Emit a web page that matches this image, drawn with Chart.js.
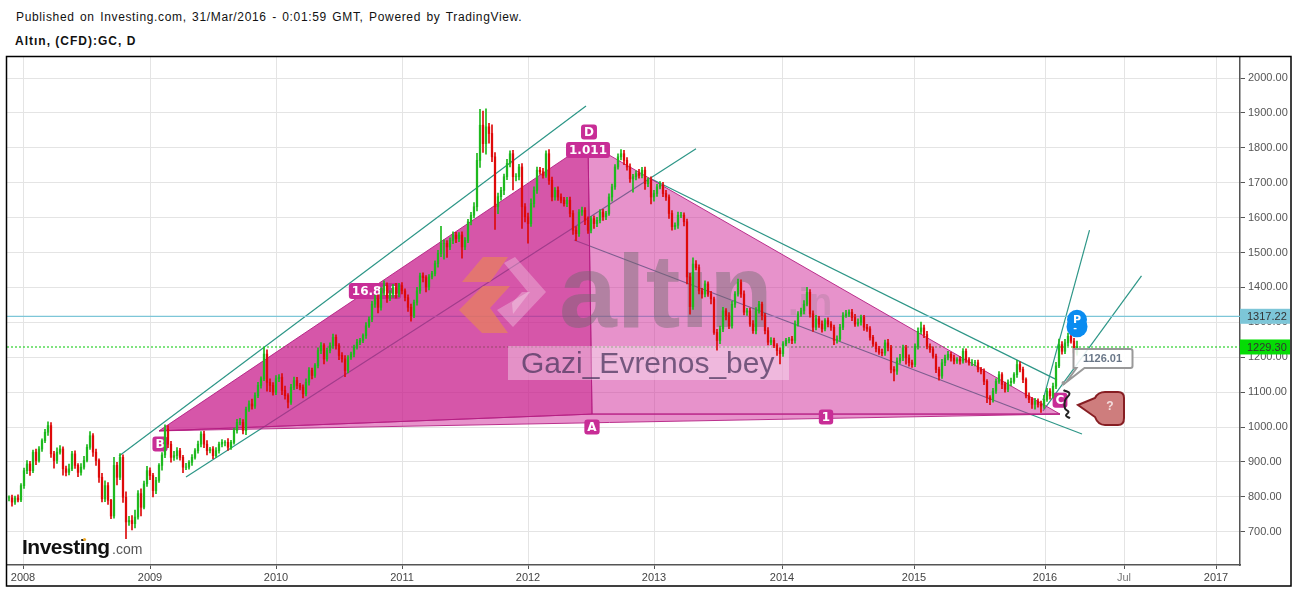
<!DOCTYPE html>
<html>
<head>
<meta charset="utf-8">
<title>Altın, (CFD):GC, D</title>
<script src="https://cdn.jsdelivr.net/npm/chart.js@4/dist/chart.umd.min.js"></script>
<style>
  html, body { margin: 0; padding: 0; background: #fff; width: 1297px; height: 589px; overflow: hidden; }
  canvas { position: absolute; left: 0; top: 0; }
  .head { position: absolute; left: 16px; font-family: "Liberation Sans", Arial, sans-serif; color: #111; white-space: nowrap; }
  #pub { top: 10px; font-size: 12px; letter-spacing: 0.65px; word-spacing: 1.5px; }
  #sym { top: 34px; left: 15px; font-size: 12px; font-weight: bold; letter-spacing: 1px; }
</style>
</head>
<body>
<div class="head" id="pub">Published on Investing.com, 31/Mar/2016 - 0:01:59 GMT, Powered by TradingView.</div>
<div class="head" id="sym">Altın, (CFD):GC, D</div>
<canvas id="chart" width="1297" height="589"></canvas>
<script>
// -------------------------------------------------------
// Data (x is in trading sessions, y in USD)
// -------------------------------------------------------
const sessionMax = 2466;
const barStep = 6;          // one candle every 6 sessions
const firstBar = 4;

const yTicks = [700, 800, 900, 1000, 1100, 1200, 1300, 1400, 1500, 1600, 1700, 1800, 1900, 2000];
const xTickSessions = [32, 286, 538, 790, 1042, 1294, 1550, 1814, 2076, 2234, 2418];
const xTickLabels = ['2008', '2009', '2010', '2011', '2012', '2013', '2014', '2015', '2016', 'Jul', '2017'];

const closes = [
  797,785,797,791,832,875,894,875,928,904,937,961,985,1004,923,904,928,937,880,870,880,923,890,870,885,904,942,975,928,904,856,794,832,790,745,890,856,913,799,728,732,723,742,809,770,837,875,
  861,818,847,890,920,994,951,913,918,932,913,885,885,899,913,932,951,980,951,932,937,918,932,951,956,956,942,956,990,1013,1013,990,1051,1066,1060,1090,
  1119,1138,1209,1128,1119,1100,1138,1143,1105,1090,1071,1114,1133,1119,1114,1095,1128,1162,1148,1176,1219,1233,1195,1219,1233,1257,1233,1205,1195,1162,1200,1209,1228,1243,1248,1262,1290,1309,1352,1367,1343,1390,1405,1371,1381,1400,1381,1405,1390,1371,1343,1319,1357,1390,1433,1428,1401,
  1430,1440,1468,1497,1526,1526,1516,1535,1550,1540,1550,1516,1535,1588,1607,1631,1764,1865,1812,1860,1841,1774,1631,1660,1678,1717,
  1755,1783,1717,1717,1745,1631,1602,1583,1640,1678,1736,1731,1721,1783,1707,1659,1678,1659,1650,1640,1650,1612,1564,1554,1616,1621,1592,1564,1597,1583,1592,1616,1602,1612,1659,1688,1745,1774,1783,1764,1745,1711,1717,1726,1721,1736,1697,1707,1659,1669,1688,1693,1669,1659,1612,1574,1578,1607,1607,1588,
  1430,1345,1467,1457,1390,1381,1410,1381,1367,1271,1248,1281,1333,1319,1290,1352,1381,1414,1381,1329,1333,1295,1276,1333,1352,1319,1276,1243,1248,1233,1219,1210,1238,1248,1252,1248,1295,1324,1333,1352,1386,1324,1286,1310,1295,1281,1305,1295,1286,1248,1252,1286,1319,1324,1329,1314,1295,1300,1314,1286,1281,1257,1238,1224,1214,
  1212,1241,1227,1165,1160,1189,1198,1227,1198,1184,1179,1231,1274,1284,1265,1231,1222,1203,1165,1146,1184,1198,1208,1198,1189,1193,1189,1217,1193,1184,1184,1184,1165,1160,1131,1084,1079,1103,1131,1150,1122,1108,1127,1131,1150,1179,1165,1136,1089,1079,1065,1074,1065,1060,1079,1103,1089,1117,1175,1236,1217,1241,1260,1246,1212,1231
];
const upperWick = [
  6,8,5,9,6,7,10,8,6,9,7,5,8,11,9,7,12,10,6,8,14,7,9,5,10,12,8,12,6,9,5,11,14,9,3,23,9,11,7,15,12,14,20,9,14,8,12,
  8,6,9,5,7,12,10,8,12,9,7,6,11,5,8,6,9,7,8,10,5,7,9,6,8,5,11,6,7,9,12,8,6,9,14,8,
  9,6,19,12,10,8,9,7,10,12,6,8,10,9,6,7,10,8,7,6,8,9,6,7,8,9,7,6,8,10,5,6,7,8,6,5,9,7,8,10,12,9,14,8,10,9,12,7,9,6,8,9,7,10,8,9,6,
  7,6,8,9,49,10,8,7,9,8,7,9,8,7,8,12,20,45,40,52,10,25,12,10,9,8,
  12,8,10,9,8,10,9,11,14,10,9,8,10,8,12,9,8,10,9,8,8,9,8,10,7,9,8,10,6,8,9,7,8,6,9,8,7,9,12,10,8,9,7,8,12,8,9,7,10,9,7,10,8,9,6,8,7,9,8,7,
  8,10,18,10,8,7,9,6,8,5,9,8,10,6,9,8,7,10,8,9,7,8,10,9,8,6,7,9,8,7,6,8,7,6,5,8,9,7,8,10,14,8,9,10,7,9,6,8,7,6,9,8,9,10,7,8,9,10,7,6,8,7,6,5,7,
  9,8,10,7,8,9,10,8,7,9,8,7,10,17,8,9,7,8,6,7,10,8,9,7,8,6,9,8,7,6,9,7,8,6,7,5,6,8,7,9,6,7,8,9,6,12,8,7,5,9,6,8,7,9,12,8,7,9,10,16,9,10,9,12,8,15
];
const lowerWick = [
  9,12,7,6,5,8,9,14,6,12,5,7,6,9,10,22,8,6,18,10,7,5,9,12,8,6,4,6,12,14,15,9,8,12,8,6,22,7,15,48,10,18,12,6,25,5,7,
  12,18,9,6,14,8,10,14,9,10,8,16,7,6,9,5,7,8,10,12,6,9,5,7,8,10,9,6,5,8,7,10,12,6,9,7,
  6,8,5,25,18,9,7,8,12,10,16,6,7,9,8,12,6,8,10,6,7,9,14,6,7,8,10,12,9,18,7,6,8,5,7,6,8,5,7,9,16,8,12,14,9,10,12,8,9,10,12,16,6,8,7,12,14,
  8,6,7,10,9,45,30,8,10,12,9,32,8,7,9,8,12,20,25,30,28,14,65,20,10,12,
  8,10,38,12,9,62,14,56,8,10,9,7,8,6,12,11,9,10,8,7,9,10,12,20,8,10,12,9,8,14,9,7,10,8,6,12,7,6,9,12,9,10,38,9,8,7,16,8,20,12,8,6,9,10,14,10,8,9,7,12,
  20,22,8,7,9,12,8,7,14,6,28,9,8,12,8,7,9,6,10,8,9,7,8,9,7,12,9,8,7,6,14,29,8,6,7,9,8,6,7,9,5,9,12,8,10,9,6,8,9,12,8,6,7,5,8,9,7,6,8,9,7,8,7,9,6,
  8,7,9,10,28,9,7,8,18,10,8,6,8,7,9,7,8,6,9,12,7,8,6,9,8,7,9,6,8,7,8,9,7,8,10,14,15,8,7,6,12,8,7,9,6,8,7,9,6,9,12,14,8,18,7,6,9,6,7,5,8,7,9,6,18,6
];

const bidLevel = 1229.30;
const markLevel = 1317.22;

// Trend lines drawn on the chart: [session, price] pairs
const channelUpper = [[224, 917], [1158, 1920]];
const channelLower = [[358, 857], [1378, 1797]];
const fallUpper = [[1286, 1713], [2100, 1135]];
const fallLower = [[1134, 1536], [2150, 980]];
const riseSteep = [[2072, 1077], [2165, 1564]];
const riseSlow = [[2072, 1046], [2269, 1433]];
const squiggle = [[2113, 1106], [2125, 1096], [2116, 1076], [2116, 1053], [2123, 1043], [2118, 1033], [2126, 1025]];

// Harmonic pattern corners
const ptX = [304, 989];
const ptA = [1162, 1814];
const ptB = [1170, 1037];
const ptC = [2106, 1037];

const tagTexts = ['B', 'D', '1.011', '16.811', 'A', '1', 'C'];
const tagSessions = [306, 1164, 1162, 736, 1170, 1638, 2106];
const tagPrices = [951, 1845, 1794, 1390, 1000, 1029, 1077];

const noteValue = 1126.01;
const noteSession = 2113;
const questionTip = [2142, 1063];
const signalAt = [2140, 1307];

// -------------------------------------------------------
// Candles
// -------------------------------------------------------
const UP = 'rgb(30,185,30)';
const DOWN = 'rgb(222,10,10)';
const barX = i => firstBar + i * barStep;
const opens = closes.map((c, i) => i ? closes[i - 1] : c);
const barColors = closes.map((c, i) => c >= opens[i] ? UP : DOWN);
const bodies = closes.map((c, i) => ({ x: barX(i), y: [opens[i], c] }));
const wicks = closes.map((c, i) => ({
  x: barX(i),
  y: [Math.min(opens[i], c) - lowerWick[i], Math.max(opens[i], c) + upperWick[i]]
}));

function lineSet(pts, color, extra) {
  return Object.assign({
    type: 'line',
    data: pts.map(p => ({ x: p[0], y: p[1] })),
    borderColor: color,
    borderWidth: 1.2,
    pointRadius: 0,
    order: 3
  }, extra || {});
}

// -------------------------------------------------------
// Canvas helpers
// -------------------------------------------------------
function poly(ctx, pts) {
  ctx.beginPath();
  pts.forEach((p, i) => i ? ctx.lineTo(p[0], p[1]) : ctx.moveTo(p[0], p[1]));
  ctx.closePath();
}

function roundBox(ctx, x, y, w, h, r) {
  ctx.beginPath();
  ctx.roundRect(x, y, w, h, r);
}

function drawPattern(chart) {
  const ctx = chart.ctx, sx = chart.scales.x, sy = chart.scales.y;
  const px = p => [sx.getPixelForValue(p[0]), sy.getPixelForValue(p[1])];
  const X = px(ptX), A = px(ptA), B = px(ptB), C = px(ptC);
  ctx.save();
  ctx.strokeStyle = 'rgba(180,30,130,0.9)';
  ctx.lineWidth = 1;
  ctx.fillStyle = 'rgba(207,37,151,0.5)';
  poly(ctx, [A, B, C]); ctx.fill(); ctx.stroke();
  poly(ctx, [X, B, C]); ctx.fill(); ctx.stroke();
  ctx.fillStyle = 'rgba(200,30,140,0.75)';
  poly(ctx, [X, A, B]); ctx.fill(); ctx.stroke();
  ctx.restore();
}

function drawWatermark(chart) {
  const ctx = chart.ctx;
  ctx.save();
  ctx.fillStyle = 'rgba(235,135,85,0.65)';
  poly(ctx, [[462, 282], [483, 257], [508, 257], [490, 282]]); ctx.fill();
  poly(ctx, [[459, 310], [483, 286], [510, 286], [490, 308], [508, 333], [482, 333]]); ctx.fill();
  ctx.fillStyle = 'rgba(255,255,255,0.28)';
  poly(ctx, [[504, 263], [515, 257], [546, 292], [513, 327], [497, 310], [528, 292]]); ctx.fill();
  poly(ctx, [[512, 303], [522, 292], [530, 292], [513, 314]]); ctx.fill();
  ctx.textBaseline = 'alphabetic';
  ctx.textAlign = 'left';
  ctx.font = 'bold 104px "Liberation Sans", sans-serif';
  ctx.fillStyle = 'rgba(105,105,105,0.42)';
  ctx.fillText('altın', 559, 327);
  ctx.font = 'bold 38px "Liberation Sans", sans-serif';
  ctx.fillStyle = 'rgba(105,105,105,0.18)';
  ctx.fillText('.in', 788, 315);
  ctx.fillStyle = 'rgba(255,255,255,0.35)';
  ctx.fillRect(508, 346, 281, 34);
  ctx.font = '30px "Liberation Sans", sans-serif';
  ctx.fillStyle = 'rgba(70,50,90,0.72)';
  ctx.fillText('Gazi_Evrenos_bey', 521, 373);
  ctx.restore();
}

function drawTags(chart) {
  const ctx = chart.ctx, sx = chart.scales.x, sy = chart.scales.y;
  ctx.save();
  ctx.font = 'bold 12px "DejaVu Sans", sans-serif';
  ctx.textAlign = 'center';
  ctx.textBaseline = 'middle';
  tagTexts.forEach((t, i) => {
    const x = sx.getPixelForValue(tagSessions[i]);
    const y = sy.getPixelForValue(tagPrices[i]);
    const w = Math.max(12, ctx.measureText(t).width + 6);
    const h = t.length > 1 ? 16 : 15;
    ctx.fillStyle = 'rgb(200,45,150)';
    roundBox(ctx, x - w / 2, y - h / 2, w, h, 3);
    ctx.fill();
    ctx.fillStyle = '#fff';
    ctx.fillText(t, x, y + 0.5);
  });
  ctx.restore();
}

function drawNotes(chart) {
  const ctx = chart.ctx, sx = chart.scales.x, sy = chart.scales.y;
  ctx.save();

  // 1126.01 price note
  const ax = sx.getPixelForValue(noteSession), ay = sy.getPixelForValue(noteValue);
  ctx.beginPath();
  ctx.moveTo(ax + 10, ay - 34);
  ctx.lineTo(ax + 67, ay - 34);
  ctx.quadraticCurveTo(ax + 69, ay - 34, ax + 69, ay - 32);
  ctx.lineTo(ax + 69, ay - 17);
  ctx.quadraticCurveTo(ax + 69, ay - 15, ax + 67, ay - 15);
  ctx.lineTo(ax + 21, ay - 15);
  ctx.lineTo(ax + 3, ay - 1);
  ctx.lineTo(ax + 13, ay - 15);
  ctx.lineTo(ax + 10, ay - 15);
  ctx.closePath();
  ctx.fillStyle = 'rgba(255,255,255,0.88)';
  ctx.fill();
  ctx.lineWidth = 2;
  ctx.strokeStyle = '#999';
  ctx.stroke();
  ctx.fillStyle = '#999';
  ctx.beginPath(); ctx.arc(ax, ay, 2, 0, Math.PI * 2); ctx.fill();
  ctx.font = 'bold 11px "Liberation Sans", sans-serif';
  ctx.fillStyle = '#6a7788';
  ctx.textAlign = 'center';
  ctx.textBaseline = 'middle';
  ctx.fillText(noteValue.toFixed(2), ax + 39, ay - 24);

  // "?" callout
  const qx = sx.getPixelForValue(questionTip[0]), qy = sy.getPixelForValue(questionTip[1]);
  ctx.beginPath();
  ctx.moveTo(qx, qy);
  ctx.lineTo(qx + 17, qy - 7);
  ctx.quadraticCurveTo(qx + 20, qy - 13, qx + 27, qy - 13);
  ctx.lineTo(qx + 40, qy - 13);
  ctx.quadraticCurveTo(qx + 46, qy - 13, qx + 46, qy - 7);
  ctx.lineTo(qx + 46, qy + 13);
  ctx.quadraticCurveTo(qx + 46, qy + 20, qx + 40, qy + 20);
  ctx.lineTo(qx + 27, qy + 20);
  ctx.quadraticCurveTo(qx + 20, qy + 20, qx + 17, qy + 12);
  ctx.closePath();
  ctx.fillStyle = 'rgb(206,125,125)';
  ctx.fill();
  ctx.lineWidth = 2;
  ctx.strokeStyle = 'rgb(135,30,35)';
  ctx.stroke();
  ctx.fillStyle = '#f3dede';
  ctx.font = 'bold 12px "Liberation Sans", sans-serif';
  ctx.fillText('?', qx + 32, qy + 2);

  // signal bubble
  const bx = sx.getPixelForValue(signalAt[0]), by = sy.getPixelForValue(signalAt[1]);
  ctx.fillStyle = 'rgb(10,140,240)';
  ctx.beginPath(); ctx.arc(bx, by + 7, 10.5, 0, Math.PI * 2); ctx.fill();
  ctx.beginPath(); ctx.arc(bx, by, 10, 0, Math.PI * 2); ctx.fill();
  ctx.fillStyle = '#fff';
  ctx.font = 'bold 11px "DejaVu Sans", sans-serif';
  ctx.fillText('P', bx, by);
  ctx.font = 'bold 9px "DejaVu Sans", sans-serif';
  ctx.fillText('-', bx - 2, by + 9);
  ctx.restore();
}

function drawBrand(chart) {
  const ctx = chart.ctx;
  ctx.save();
  ctx.textAlign = 'left';
  ctx.textBaseline = 'alphabetic';
  ctx.font = 'bold 21px "Liberation Sans", sans-serif';
  ctx.letterSpacing = '-0.5px';
  ctx.fillStyle = '#111';
  ctx.fillText('Investing', 22, 554);
  ctx.letterSpacing = '0px';
  ctx.font = '14px "Liberation Sans", sans-serif';
  ctx.fillStyle = '#555';
  ctx.fillText('.com', 112, 554);
  ctx.fillStyle = 'rgb(240,170,40)';
  ctx.beginPath(); ctx.arc(84.5, 539.5, 1.6, 0, Math.PI * 2); ctx.fill();
  ctx.restore();
}

function drawLevels(chart) {
  const ctx = chart.ctx, sy = chart.scales.y, right = chart.chartArea.right;
  const boxes = [[markLevel, 'rgb(125,198,216)'], [bidLevel, 'rgb(5,220,5)']];
  ctx.save();
  ctx.font = '11px "Liberation Sans", sans-serif';
  ctx.textAlign = 'left';
  ctx.textBaseline = 'middle';
  boxes.forEach(b => {
    const y = sy.getPixelForValue(b[0]);
    ctx.fillStyle = b[1];
    ctx.fillRect(right, y - 7.5, 50, 15);
    ctx.fillStyle = '#333';
    ctx.fillText(b[0].toFixed(2), right + 7, y + 0.5);
  });
  ctx.strokeStyle = '#000';
  ctx.lineWidth = 1.5;
  ctx.strokeRect(6.5, 56.5, 1284.5, 529.5);
  ctx.restore();
}

// Pattern, watermark and tags sit between the lines and the candles
const overlayPlugin = {
  id: 'overlay',
  beforeDatasetDraw(chart, args) {
    if (chart.data.datasets[args.index].label !== 'wicks') return;
    drawPattern(chart);
    drawWatermark(chart);
    drawTags(chart);
  },
  afterDatasetsDraw(chart) {
    drawNotes(chart);
    drawBrand(chart);
  },
  afterDraw(chart) {
    drawLevels(chart);
  }
};

// -------------------------------------------------------
// Chart
// -------------------------------------------------------
new Chart(document.getElementById('chart'), {
  type: 'bar',
  plugins: [overlayPlugin],
  data: {
    datasets: [
      lineSet([[0, markLevel], [sessionMax, markLevel]], 'rgb(125,198,216)'),
      lineSet([[0, bidLevel], [sessionMax, bidLevel]], 'rgb(0,200,0)', { borderDash: [2, 2] }),
      lineSet(channelUpper, 'rgb(45,150,135)'),
      lineSet(channelLower, 'rgb(45,150,135)'),
      lineSet(fallUpper, 'rgb(45,150,135)'),
      lineSet(fallLower, 'rgb(45,150,135)'),
      lineSet(riseSteep, 'rgb(45,150,135)'),
      lineSet(riseSlow, 'rgb(45,150,135)'),
      lineSet(squiggle, '#222', { borderWidth: 2, tension: 0.45, order: 0 }),
      {
        label: 'wicks',
        data: wicks,
        backgroundColor: barColors,
        barThickness: 1,
        grouped: false,
        order: 2
      },
      {
        label: 'bodies',
        data: bodies,
        backgroundColor: barColors,
        barThickness: 1.6,
        grouped: false,
        order: 1
      }
    ]
  },
  options: {
    responsive: false,
    animation: false,
    events: [],
    layout: { padding: { left: 7, top: 57, right: 6, bottom: 3 } },
    plugins: { legend: { display: false }, tooltip: { enabled: false } },
    scales: {
      x: {
        type: 'linear',
        offset: false,
        min: 0,
        max: sessionMax,
        grid: { offset: false, color: '#e4e4e4', tickColor: '#555', tickLength: 4 },
        border: { color: '#555', width: 1.5 },
        afterBuildTicks: s => { s.ticks = xTickSessions.map(v => ({ value: v })); },
        afterFit: s => { s.height = 21; },
        ticks: {
          autoSkip: false,
          maxRotation: 0,
          padding: 2,
          color: ctx => (ctx.index === 9 ? '#777' : '#444'),
          font: { family: '"Liberation Sans", sans-serif', size: 11 },
          callback: (v, i) => xTickLabels[i]
        }
      },
      y: {
        position: 'right',
        min: 604.6,
        max: 2060.2,
        grid: { color: '#e4e4e4', tickColor: '#555', tickLength: 5 },
        border: { color: '#555', width: 1.5 },
        afterBuildTicks: s => { s.ticks = yTicks.map(v => ({ value: v })); },
        afterFit: s => { s.width = 51; },
        ticks: {
          padding: 3,
          color: '#555',
          font: { family: '"Liberation Sans", sans-serif', size: 11 },
          callback: v => Number(v).toFixed(2)
        }
      }
    }
  }
});
</script>
</body>
</html>
